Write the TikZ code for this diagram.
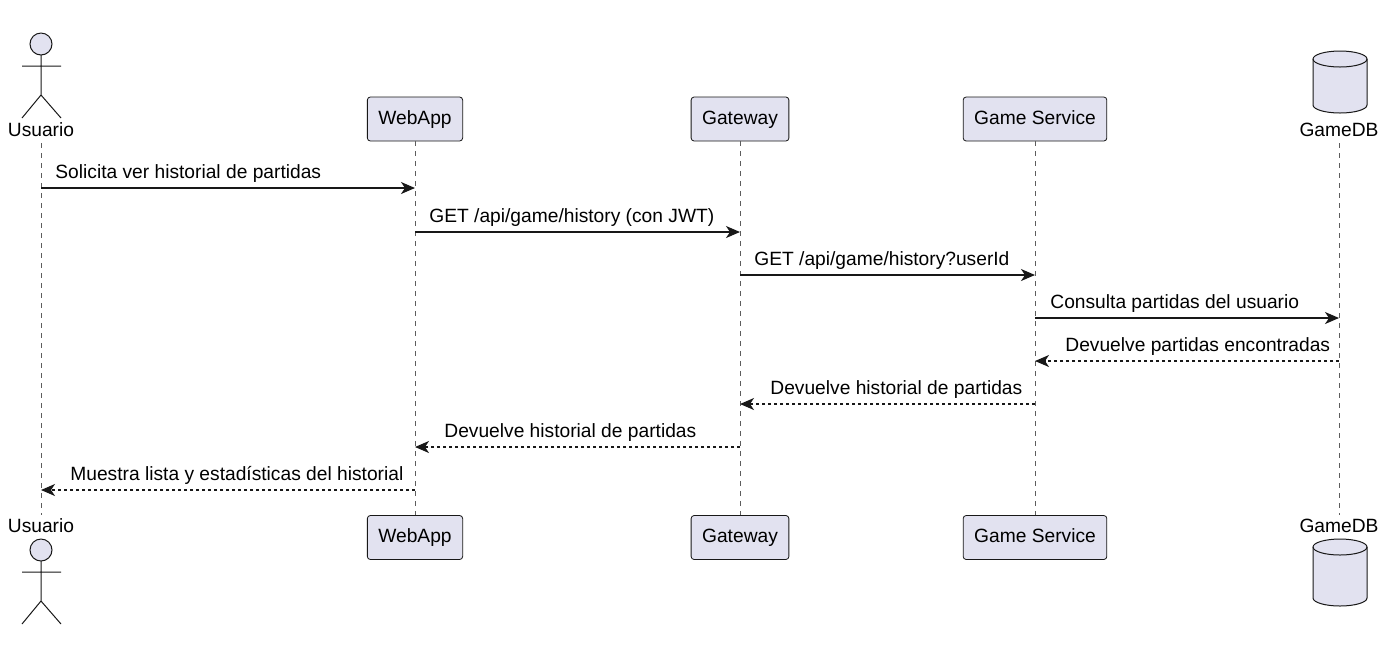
\documentclass[tikz,border=0pt]{standalone}
\usepackage{fontspec}
\setmainfont{Liberation Sans}
\usetikzlibrary{arrows.meta, positioning, shapes.geometric}
\definecolor{partfill}{HTML}{E2E2F0}
\definecolor{partline}{HTML}{181818}
\begin{document}
\begin{tikzpicture}[x=0.5pt, y=-0.5pt,
    every node/.style={font=\fontsize{9.6}{11.5}\selectfont},
    part/.style={draw=partline, fill=partfill, rounded corners=1.5pt, text height=7pt, text depth=2pt,
      minimum height=22pt, inner xsep=5.5pt},
    life/.style={draw=partline!70, dashed, dash pattern=on 2.5pt off 2.5pt, line width=0.4pt},
    msg/.style={draw=partline, line width=0.6pt, -{Stealth[length=7pt, width=6pt, inset=2pt]}},
    ret/.style={msg, dash pattern=on 1.5pt off 1.5pt},
    lbl/.style={inner sep=1.5pt, anchor=south west}]
  \useasboundingbox (0,0) rectangle (1392,645);

  % participants top
  \node[part] (web) at (415,119) {WebApp};
  \node[part] (gw) at (740,119) {Gateway};
  \node[part] (gs) at (1035,119) {Game Service};
  % participants bottom
  \node[part] (webB) at (415,537.5) {WebApp};
  \node[part] (gwB) at (740,537.5) {Gateway};
  \node[part] (gsB) at (1035,537.5) {Game Service};

  % actor
  \coordinate (usr) at (41,143);
  \coordinate (usrB) at (41,515);
  \node (usrT) at (41,130) {Usuario};
  \node (usrBT) at (41,526) {Usuario};
  \foreach \y in {44,550} {
    \draw[partline, fill=partfill, line width=0.5pt] (41,\y) circle[radius=5.5pt];
    \draw[partline, line width=0.5pt] (41,\y+11) -- (41,\y+51) (22,\y+22) -- (61,\y+22)
      (22,\y+74) -- (41,\y+51) -- (61,\y+74);
  }

  % database
  \coordinate (db) at (1339,143);
  \coordinate (dbB) at (1339,515);
  \node (dbT) at (1339,130) {GameDB};
  \node (dbBT) at (1339,526) {GameDB};
  \foreach \t/\b in {51/113,539/606} {
    \draw[partline, fill=partfill, line width=0.5pt]
      (1313,\t+8) -- (1313,\b-8) arc[start angle=180, end angle=360, x radius=13.5pt, y radius=4pt]
      -- (1367,\t+8) arc[start angle=0, end angle=180, x radius=13.5pt, y radius=4pt];
    \draw[partline, line width=0.5pt] (1313,\t+8) arc[start angle=180, end angle=360, x radius=13.5pt, y radius=4pt];
  }

  % lifelines
  \draw[life] (usr) -- (usrB);
  \draw[life] (web) -- (webB);
  \draw[life] (gw) -- (gwB);
  \draw[life] (gs) -- (gsB);
  \draw[life] (db) -- (dbB);

  % message rows
  \foreach \i/\y in {1/188,2/232,3/275,4/318,5/361,6/404,7/447,8/490}
    \coordinate (m\i) at (0,\y);

  \draw[msg] (usr |- m1) -- (web |- m1);
  \node[lbl] at (52,186) {Solicita ver historial de partidas};
  \draw[msg] (web |- m2) -- (gw |- m2);
  \node[lbl] at (426,230) {GET /api/game/history (con JWT)};
  \draw[msg] (gw |- m3) -- (gs |- m3);
  \node[lbl] at (751,273) {GET /api/game/history?userId};
  \draw[msg] (gs |- m4) -- (db |- m4);
  \node[lbl] at (1047,316) {Consulta partidas del usuario};
  \draw[ret] (db |- m5) -- (gs |- m5);
  \node[lbl] at (1062,359) {Devuelve partidas encontradas};
  \draw[ret] (gs |- m6) -- (gw |- m6);
  \node[lbl] at (767,402) {Devuelve historial de partidas};
  \draw[ret] (gw |- m7) -- (web |- m7);
  \node[lbl] at (441,445) {Devuelve historial de partidas};
  \draw[ret] (web |- m8) -- (usr |- m8);
  \node[lbl] at (67,488) {Muestra lista y estadísticas del historial};
\end{tikzpicture}
\end{document}
